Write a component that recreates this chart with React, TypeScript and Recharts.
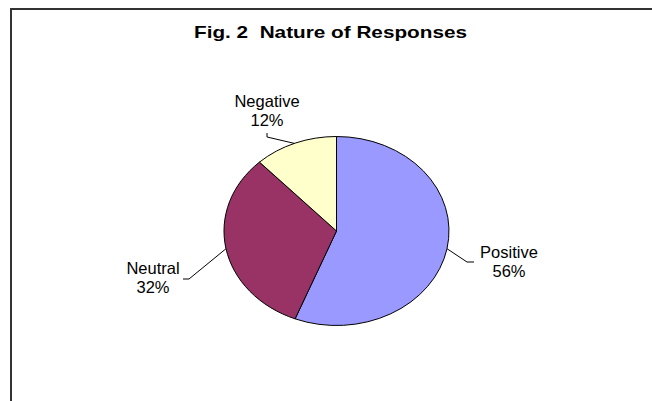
import { PieChart, Pie, Cell } from "recharts";

const categories = ["Positive", "Neutral", "Negative"];
const shares = [56, 32, 12];
const colors = ["#9999FF", "#993366", "#FFFFCC"];

const W = 652;
const H = 401;
const CX = 336.5;
const CY = 231;
const RX = 112.5;
const SQUASH = 94.5 / 112.5; // the pie is drawn as a flattened ellipse

// leader line + label offsets from the pie centre (Excel placed these by hand)
const labelLayout: Record<
  string,
  { angle: number | null; elbow: [number, number]; end: [number, number]; text: [number, number] }
> = {
  Positive: { angle: null, elbow: [130.5, 31], end: [137.5, 31], text: [172.5, 27] },
  Neutral: { angle: null, elbow: [-147.5, 48], end: [-153.5, 48], text: [-183.5, 43] },
  Negative: { angle: 112, elbow: [-69.5, -94], end: [-69.5, -98], text: [-69.5, -124] },
};

const data = categories.map((name, i) => ({ name, value: shares[i] }));

function renderLabel(props: any) {
  const { cx, cy, midAngle, outerRadius, percent, index } = props;
  const name = props.payload?.name ?? props.name ?? categories[index];
  const lay = labelLayout[name];
  const a = ((lay.angle ?? midAngle) * Math.PI) / 180;
  const sx = cx + outerRadius * Math.cos(a);
  const sy = cy - outerRadius * SQUASH * Math.sin(a);
  const tx = cx + lay.text[0];
  const ty = cy + lay.text[1];
  return (
    <g>
      <polyline
        points={`${sx},${sy} ${cx + lay.elbow[0]},${cy + lay.elbow[1]} ${cx + lay.end[0]},${cy + lay.end[1]}`}
        fill="none"
        stroke="#000"
        strokeWidth={1}
      />
      <text
        x={tx}
        y={ty}
        textAnchor="middle"
        fontSize={16.5}
        fontFamily="'Liberation Sans', Arial, sans-serif"
        fill="#000"
      >
        <tspan x={tx}>{name}</tspan>
        <tspan x={tx} dy={19}>
          {Math.round(percent * 100)}%
        </tspan>
      </text>
    </g>
  );
}

export default function App() {
  return (
    <div style={{ position: "absolute", left: 0, top: 0, width: W, height: H, background: "#fff" }}>
      <style>{`
        .recharts-pie-sector {
          transform-box: view-box;
          transform-origin: ${CX}px ${CY}px;
          transform: scaleY(${SQUASH});
        }
        .recharts-pie-sector path { vector-effect: non-scaling-stroke; }
      `}</style>
      <svg width={W} height={H} style={{ position: "absolute", left: 0, top: 0 }}>
        <polyline points={`11,${H} 11,9 ${W},9`} fill="none" stroke="#333" strokeWidth={2} />
        <text
          x={330.5}
          y={38}
          textAnchor="middle"
          fontSize={16.5}
          fontWeight="bold"
          fontFamily="'Liberation Sans', Arial, sans-serif"
          textLength={273}
          lengthAdjust="spacingAndGlyphs"
          fill="#000"
        >
          {"Fig. 2\u00a0 Nature of Responses"}
        </text>
      </svg>
      <div style={{ position: "absolute", left: 0, top: 0 }}>
        <PieChart width={W} height={H} margin={{ top: 0, right: 0, bottom: 0, left: 0 }}>
          <Pie
            data={data}
            dataKey="value"
            nameKey="name"
            cx={CX}
            cy={CY}
            outerRadius={RX}
            startAngle={90}
            endAngle={-270}
            stroke="#000"
            strokeWidth={1}
            labelLine={false}
            label={renderLabel}
            isAnimationActive={false}
          >
            {data.map((d, i) => (
              <Cell key={d.name} fill={colors[i]} />
            ))}
          </Pie>
        </PieChart>
      </div>
    </div>
  );
}
